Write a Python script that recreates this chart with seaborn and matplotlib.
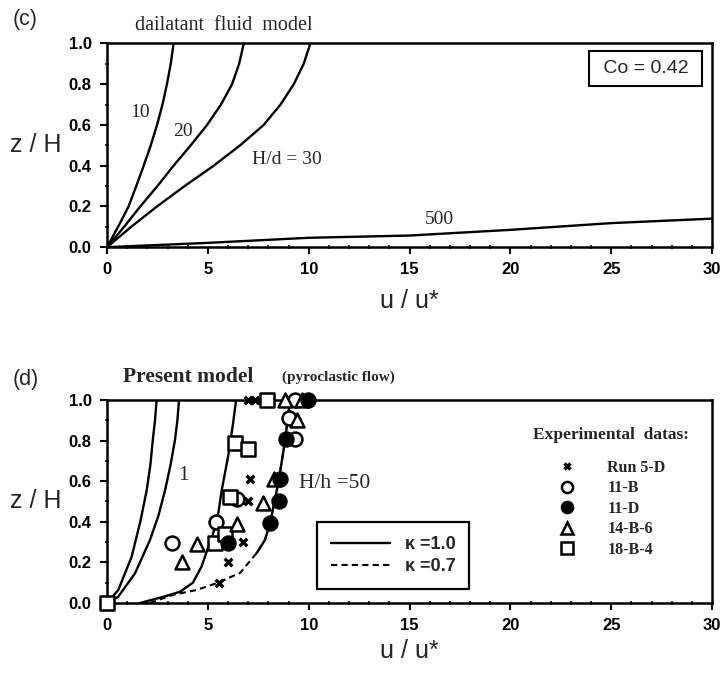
import numpy as np
import pandas as pd
import matplotlib
matplotlib.use("Agg")
import matplotlib.pyplot as plt
from matplotlib.lines import Line2D
from matplotlib.ticker import MultipleLocator, FormatStrFormatter
import seaborn as sns

# ---------------- data ----------------
# (c) dilatant fluid model: velocity profiles for several H/d
hd10_u = [0, 0.55, 1.07, 1.45, 1.82, 2.17, 2.48, 2.75, 2.97, 3.16, 3.3]
hd10_z = [0, 0.1, 0.2, 0.3, 0.4, 0.5, 0.6, 0.7, 0.8, 0.9, 1.0]
hd20_u = [0, 0.85, 1.65, 2.5, 3.3, 4.15, 4.96, 5.65, 6.2, 6.55, 6.78]
hd20_z = [0, 0.1, 0.2, 0.3, 0.4, 0.5, 0.6, 0.7, 0.8, 0.9, 1.0]
hd30_u = [0, 1.2, 2.48, 3.85, 5.29, 6.6, 7.77, 8.6, 9.26, 9.75, 10.08]
hd30_z = [0, 0.1, 0.2, 0.3, 0.4, 0.5, 0.6, 0.7, 0.8, 0.9, 1.0]
hd500_u = [0, 5, 10, 15, 20, 25, 30]
hd500_z = [0, 0.021, 0.046, 0.057, 0.085, 0.118, 0.14]

# (d) present model (pyroclastic flow)
pa_u = [0, 0.56, 1.22, 1.65, 1.97, 2.15, 2.27, 2.38, 2.46]
pa_z = [0, 0.064, 0.227, 0.4, 0.556, 0.68, 0.803, 0.9, 1.0]
pb_u = [0, 0.55, 1.39, 2.13, 2.55, 2.88, 3.15, 3.37, 3.49, 3.57]
pb_z = [0, 0.03, 0.146, 0.31, 0.43, 0.556, 0.68, 0.803, 0.9, 1.0]
pc_u = [1.64, 2.78, 3.62, 4.26, 4.69, 5.0, 5.19, 5.47, 5.69, 6.0, 6.25, 6.4]
pc_z = [0.0, 0.03, 0.055, 0.10, 0.18, 0.27, 0.32, 0.41, 0.557, 0.72, 0.885, 1.0]
# H/h = 50, kappa = 1.0 (solid) and kappa = 0.7 (dashed)
k10_u = [7.42, 7.83, 8.1, 8.49, 8.83, 9.07]
k10_z = [0.246, 0.31, 0.40, 0.59, 0.80, 1.0]
k07_u = [2.13, 3.27, 4.45, 5.5, 6.6, 7.42, 7.83, 8.1, 8.49, 8.83, 9.07]
k07_z = [0.0, 0.04, 0.064, 0.10, 0.148, 0.246, 0.31, 0.40, 0.59, 0.80, 1.0]

# experimental data
run5d_u = [5.57, 6.02, 6.76, 7.0, 7.09, 7.0, 7.35]
run5d_z = [0.10, 0.20, 0.30, 0.50, 0.61, 1.0, 1.0]
b11_u = [3.2, 5.4, 6.45, 9.0, 9.3, 9.3]
b11_z = [0.295, 0.40, 0.51, 0.91, 0.81, 1.0]
d11_u = [6.02, 8.08, 8.53, 8.58, 8.87, 9.97]
d11_z = [0.295, 0.395, 0.50, 0.61, 0.81, 1.0]
b146_u = [3.7, 4.45, 6.46, 7.75, 8.28, 9.4, 8.83, 9.67]
b146_z = [0.20, 0.29, 0.39, 0.49, 0.61, 0.90, 1.0, 1.0]
b184_u = [0, 5.35, 5.85, 6.1, 6.35, 7.0, 7.93]
b184_z = [0, 0.295, 0.34, 0.52, 0.79, 0.76, 1.0]

exp_labels = ["Run 5-D", "11-B", "11-D", "14-B-6", "18-B-4"]
kappa_labels = ["κ =1.0", "κ =0.7"]
xticks = [0, 5, 10, 15, 20, 25, 30]
yticks = [0.0, 0.2, 0.4, 0.6, 0.8, 1.0]

# ---------------- style ----------------
sns.set_style("ticks")
plt.rcParams["font.family"] = ["Liberation Sans", "DejaVu Sans"]
SERIF = ["Liberation Serif", "DejaVu Serif"]
LW = 1.7
DASH = (0, (3, 2))

fig = plt.figure(figsize=(7.23, 6.79), dpi=100)
ax_c = fig.add_axes([0.148, 0.636, 0.837, 0.300])
ax_d = fig.add_axes([0.148, 0.112, 0.837, 0.299])


def style_axes(ax, xpad):
    ax.set_xlim(0, 30)
    ax.set_ylim(0, 1.0)
    ax.set_xticks(xticks)
    ax.set_yticks(yticks)
    ax.xaxis.set_minor_locator(MultipleLocator(1))
    ax.yaxis.set_minor_locator(MultipleLocator(0.1))
    ax.yaxis.set_major_formatter(FormatStrFormatter("%.1f"))
    for s in ax.spines.values():
        s.set_visible(True)
        s.set_linewidth(1.8)
        s.set_color("black")
    ax.tick_params(which="major", direction="out", length=5, width=1.5,
                   labelsize=12, colors="black", pad=6)
    ax.tick_params(which="minor", direction="inout", length=3.5, width=1.3)
    for lab in ax.get_xticklabels() + ax.get_yticklabels():
        lab.set_fontweight("bold")
    ax.set_xlabel("u / u*", fontsize=18, labelpad=xpad)
    ax.set_ylabel("z / H", fontsize=18, rotation=0, va="center")
    ax.yaxis.set_label_coords(-0.118, 0.5)


def curve(ax, u, z, ls="-", lw=LW):
    sns.lineplot(x=u, y=z, ax=ax, sort=False, estimator=None, color="black",
                 linewidth=lw, linestyle=ls)


# ---------------- (c) ----------------
for u, z in [(hd10_u, hd10_z), (hd20_u, hd20_z), (hd30_u, hd30_z), (hd500_u, hd500_z)]:
    curve(ax_c, u, z)
style_axes(ax_c, xpad=8)

ax_c.text(1.64, 0.66, "10", fontsize=14, family=SERIF, ha="center", va="center")
ax_c.text(3.77, 0.57, "20", fontsize=14, family=SERIF, ha="center", va="center")
ax_c.text(8.9, 0.43, "H/d = 30", fontsize=14, family=SERIF, ha="center", va="center")
ax_c.text(16.5, 0.135, "500", fontsize=14, family=SERIF, ha="center", va="center")
ax_c.text(26.7, 0.877, " Co = 0.42 ", fontsize=14, ha="center", va="center",
          bbox=dict(boxstyle="square,pad=0.45", fc="white", ec="black", lw=1.5))
fig.text(13 / 723, 1 - 20 / 679, "(c)", fontsize=15.5, va="center")
fig.text(224 / 723, 1 - 25 / 679, "dailatant  fluid  model", fontsize=14.5,
         family=SERIF, ha="center", va="center")

# ---------------- (d) ----------------
for u, z in [(pa_u, pa_z), (pb_u, pb_z), (pc_u, pc_z), (k10_u, k10_z)]:
    curve(ax_d, u, z)
curve(ax_d, k07_u, k07_z, ls=DASH, lw=1.5)

exp_style = dict(edgecolor="black", linewidth=1.8, zorder=5)
MS = 100
sns.scatterplot(x=b11_u, y=b11_z, ax=ax_d, marker="o", s=MS, facecolor="white", **exp_style)
sns.scatterplot(x=b184_u, y=b184_z, ax=ax_d, marker="s", s=MS, facecolor="white", **exp_style)
sns.scatterplot(x=b146_u, y=b146_z, ax=ax_d, marker="^", s=MS, facecolor="white", **exp_style)
sns.scatterplot(x=d11_u, y=d11_z, ax=ax_d, marker="o", s=MS, facecolor="black", **exp_style)
sns.scatterplot(x=run5d_u, y=run5d_z, ax=ax_d, marker="x", s=30, color="black",
                linewidth=2.4, zorder=6)
for c in ax_d.collections:
    c.set_clip_on(False)

style_axes(ax_d, xpad=4)

ax_d.text(3.77, 0.63, "1", fontsize=15, family=SERIF, ha="center", va="center")
ax_d.text(9.5, 0.59, "H/h =50", fontsize=15.5, family=SERIF, ha="left", va="center")
fig.text(13 / 723, 1 - 380 / 679, "(d)", fontsize=15.5, va="center")
fig.text(188 / 723, 1 - 377 / 679, "Present model", fontsize=15.5, weight="bold",
         family=SERIF, ha="center", va="center")
fig.text(338 / 723, 1 - 377 / 679, "(pyroclastic flow)", fontsize=11, weight="bold",
         family=SERIF, ha="center", va="center")

# kappa legend
k_handles = [Line2D([], [], color="black", lw=LW),
             Line2D([], [], color="black", lw=1.5, ls=DASH)]
leg_k = ax_d.legend(k_handles, kappa_labels, loc="lower left",
                    bbox_to_anchor=(0.347, 0.069), borderaxespad=0, frameon=True,
                    fancybox=False, edgecolor="black", handlelength=3.3,
                    handletextpad=0.8, borderpad=0.75, labelspacing=0.3,
                    prop=dict(size=13, weight="bold"))
leg_k.get_frame().set_linewidth(1.6)
leg_k.get_frame().set_alpha(1)
ax_d.add_artist(leg_k)

# experimental data legend
fig.text(611 / 723, 1 - 435 / 679, "Experimental  datas:", fontsize=12.5,
         weight="bold", family=SERIF, ha="center", va="center")
e_kw = dict(color="black", ls="none", markeredgecolor="black", markeredgewidth=1.8)
e_handles = [Line2D([], [], marker="x", markersize=5, markeredgewidth=2.4, color="black", ls="none"),
             Line2D([], [], marker="o", markersize=8, markerfacecolor="white", **e_kw),
             Line2D([], [], marker="o", markersize=8, markerfacecolor="black", **e_kw),
             Line2D([], [], marker="^", markersize=8, markerfacecolor="white", **e_kw),
             Line2D([], [], marker="s", markersize=8, markerfacecolor="white", **e_kw)]
ax_d.legend(e_handles, exp_labels, loc="upper left", bbox_to_anchor=(0.745, 0.705),
            borderaxespad=0, frameon=False, handlelength=1.2, handletextpad=1.9,
            labelspacing=0.28, borderpad=0,
            prop=dict(family=SERIF, size=11.5, weight="bold"))

fig.savefig("out.png", dpi=100)
